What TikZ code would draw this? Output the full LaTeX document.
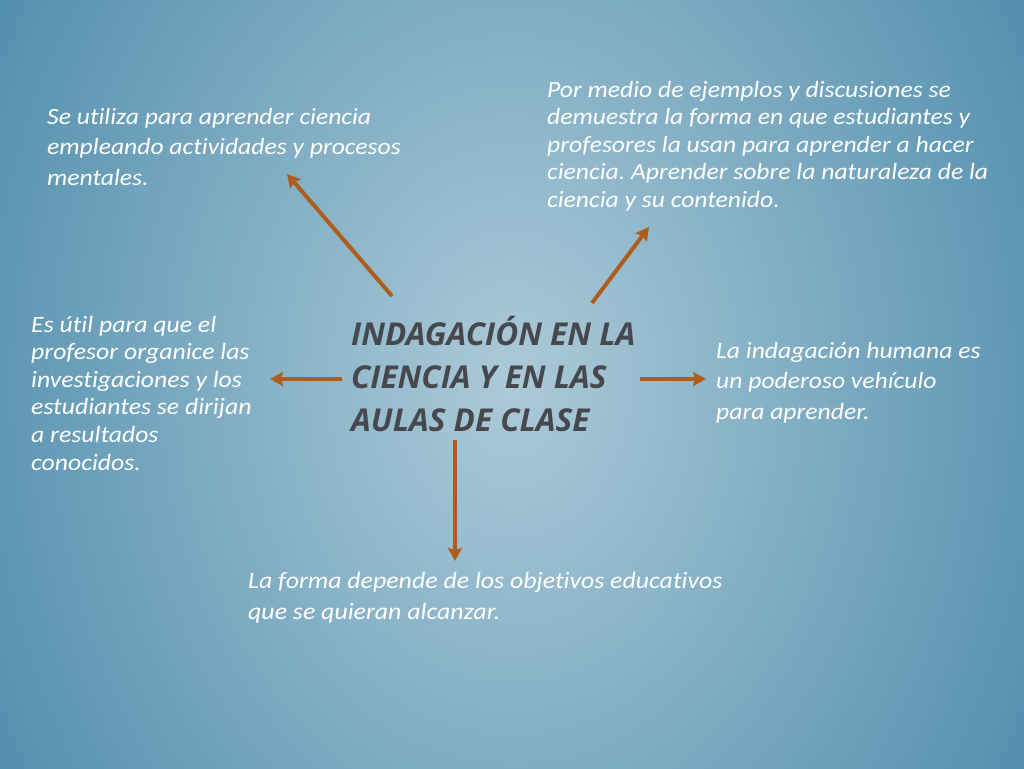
\documentclass[tikz,border=0pt]{standalone}
\usepackage{fontspec}
\setmainfont{Carlito}[FakeStretch=1.1, Ligatures=NoCommon]
\newfontfamily\headfont{Open Sans}
\usetikzlibrary{arrows.meta}
\frenchspacing
\definecolor{bgin}{HTML}{ACCAD8}
\definecolor{bgout}{HTML}{4A8AAA}
\definecolor{arrowc}{HTML}{AD5E1F}
\definecolor{titlec}{HTML}{47484D}
\tikzset{
  note/.style={anchor=base west, inner sep=0pt, align=left, text=white,
    font=\fontsize{23.3}{30.5}\selectfont\itshape},
  link/.style={draw=arrowc, line width=4pt, -{Stealth[length=13pt,width=14pt,inset=2pt]}}
}
\begin{document}
\begin{tikzpicture}[x=1pt,y=-1pt]
  \begin{scope}
    \clip (0,0) rectangle (1024,768);
    \shade[inner color=bgin, outer color=bgout] (512,384) ellipse (650 and 850);
  \end{scope}
  \useasboundingbox (0,0) rectangle (1024,768);
  % centre (base = last line)
  \node[anchor=base west, inner sep=0pt, align=left, text=titlec,
    font=\headfont\bfseries\itshape\fontsize{31.5}{43}\selectfont] (title) at (351,431)
    {INDAGACIÓN EN LA\\CIENCIA Y EN LAS\\AULAS DE CLASE};
  % notes
  \node[note] (proc) at (47,185) {Se utiliza para aprender ciencia\\empleando actividades y procesos\\mentales.};
  \node[note, font=\fontsize{23.3}{27.5}\selectfont\itshape] (ejem) at (547,207) {Por medio de ejemplos y discusiones se\\demuestra la forma en que estudiantes y\\profesores la usan para aprender a hacer\\ciencia. Aprender sobre la naturaleza de la\\ciencia y su contenido.};
  \node[note, font=\fontsize{23.4}{27.6}\selectfont\itshape] (prof) at (31,470) {Es útil para que el\\profesor organice las\\investigaciones y los\\estudiantes se dirijan\\a resultados\\conocidos.};
  \node[note] (vehi) at (716,419) {La indagación humana es\\un poderoso vehículo\\para aprender.};
  \node[note, font=\fontsize{23.5}{30.5}\selectfont\itshape] (obje) at (248,619) {La forma depende de los objetivos educativos\\que se quieran alcanzar.};
  % arrows
  \coordinate (a1) at (392,296); \coordinate (b1) at (287,174);
  \coordinate (a2) at (592,303); \coordinate (b2) at (649,227);
  \coordinate (a3) at (342,379); \coordinate (b3) at (270,379);
  \coordinate (a4) at (640,379); \coordinate (b4) at (706,379);
  \coordinate (a5) at (455,440); \coordinate (b5) at (455,561);
  \foreach \s/\e in {a1/b1,a2/b2,a3/b3,a4/b4,a5/b5}
    \draw[link] (\s) -- (\e);
\end{tikzpicture}
\end{document}
